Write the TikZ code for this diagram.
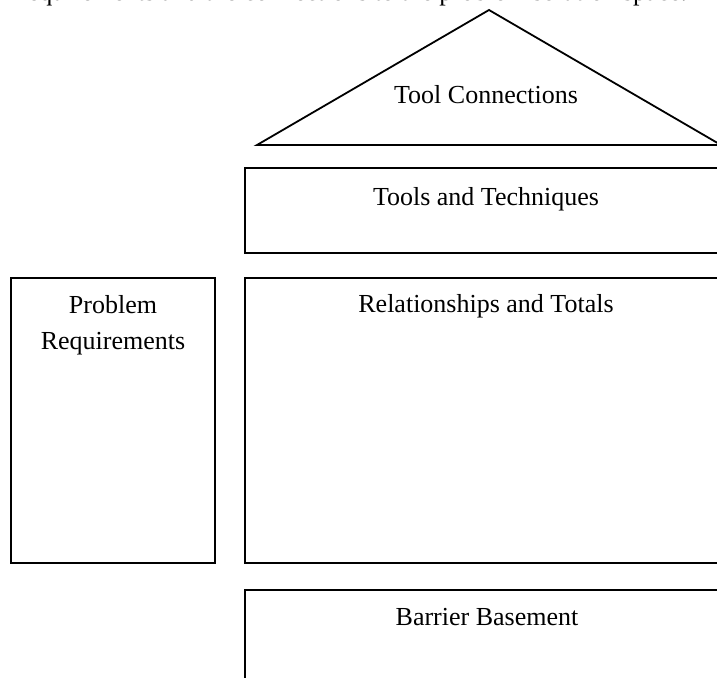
\documentclass[tikz,border=0pt]{standalone}
\usepackage{fontspec}
\setmainfont{Liberation Serif}
\begin{document}
\begin{tikzpicture}[x=1pt,y=-1pt,
  shapeline/.style={draw=black,line width=1.8pt},
  lbl/.style={anchor=base,inner sep=0pt,font=\fontsize{26}{36}\selectfont,align=center}]
\useasboundingbox (0,0) rectangle (717,677);
\clip (0,0) rectangle (717,677);
% clipped caption line at the top (cut off by the page edge, as in the source)
\node[lbl,anchor=base west] (caption) at (19,0.3) {requirements and the connections to the problem solution space.};
% roof
\draw[shapeline,line join=miter] (257,145) -- (489,10) -- (721,145) -- cycle;
\node[lbl] (roof) at (486,103) {Tool Connections};
% tools box
\draw[shapeline] (245,168) rectangle (730,253);
\node[lbl] (tools) at (486,205) {Tools and Techniques};
% relationships box
\draw[shapeline] (245,278) rectangle (730,563);
\node[lbl] (rel) at (486,312) {Relationships and Totals};
% problem requirements box
\draw[shapeline] (11,278) rectangle (215,563);
\node[lbl] (prob) at (113,349) {Problem\\Requirements};
% basement
\draw[shapeline] (245,590) rectangle (730,700);
\node[lbl] (base) at (487,625) {Barrier Basement};
\end{tikzpicture}
\end{document}
